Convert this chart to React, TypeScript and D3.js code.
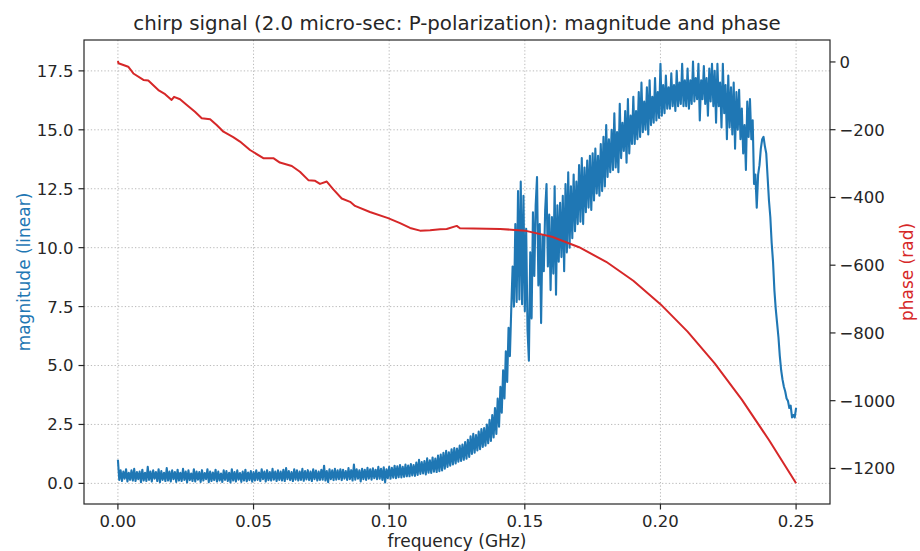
import React from "react";
import * as d3 from "d3";

const W = 920;
const H = 551;
const FRAME = { left: 84, right: 830, top: 40, bottom: 504 };

const TITLE = "chirp signal (2.0 micro-sec: P-polarization): magnitude and phase";
const X_LABEL = "frequency (GHz)";
const Y_LEFT_LABEL = "magnitude (linear)";
const Y_RIGHT_LABEL = "phase (rad)";

const freqTicks = [0, 0.05, 0.1, 0.15, 0.2, 0.25];
const magTicks = [0, 2.5, 5, 7.5, 10, 12.5, 15, 17.5];
const phaseTicks = [0, -200, -400, -600, -800, -1000, -1200];

const freqDomain = [-0.0125, 0.2625];
const magDomain = [-0.875, 18.81];
const phaseDomain = [-1305, 64.8];

// magnitude samples every 0.0005 GHz from 0 to 0.25 GHz
const MAG_STEP = 0.0005;
const magnitude = [
  1.0, 0.15, 0.55, 0.1, 0.5, 0.2, 0.6, 0.08, 0.45, 0.15, 0.55, 0.12, 0.62, 0.1, 0.48, 0.18, 0.5, 0.05, 0.58, 0.12,
  0.45, 0.1, 0.7, 0.15, 0.5, 0.08, 0.55, 0.2, 0.48, 0.1, 0.6, 0.05, 0.52, 0.15, 0.45, 0.1, 0.65, 0.12, 0.5, 0.08,
  0.55, 0.18, 0.48, 0.06, 0.58, 0.12, 0.45, 0.1, 0.62, 0.15, 0.5, 0.04, 0.55, 0.14, 0.42, 0.1, 0.6, 0.08, 0.5, 0.16,
  0.48, 0.06, 0.56, 0.12, 0.44, 0.18, 0.6, 0.05, 0.5, 0.1, 0.46, 0.14, 0.58, 0.08, 0.5, 0.12, 0.42, 0.06, 0.55, 0.15,
  0.52, 0.1, 0.45, 0.04, 0.6, 0.12, 0.48, 0.08, 0.55, 0.16, 0.44, 0.06, 0.5, 0.12, 0.58, 0.09, 0.46, 0.14, 0.52, 0.07,
  0.48, 0.12, 0.55, 0.15, 0.46, 0.1, 0.6, 0.18, 0.5, 0.08, 0.56, 0.14, 0.48, 0.12, 0.62, 0.16, 0.5, 0.1, 0.55, 0.15,
  0.5, 0.12, 0.58, 0.1, 0.65, 0.18, 0.52, 0.14, 0.48, 0.1, 0.6, 0.16, 0.55, 0.12, 0.5, 0.15, 0.62, 0.11, 0.52, 0.17,
  0.56, 0.14, 0.5, 0.1, 0.6, 0.18, 0.54, 0.12, 0.5, 0.15, 0.58, 0.16, 0.75, 0.12, 0.52, 0.05, 0.6, 0.18, 0.55, 0.14,
  0.62, 0.16, 0.55, 0.18, 0.6, 0.14, 0.58, 0.2, 0.52, 0.15, 0.65, 0.18, 0.56, 0.12, 0.8, 0.16, 0.6, 0.2, 0.55, 0.08,
  0.62, 0.18, 0.58, 0.15, 0.66, 0.2, 0.6, 0.16, 0.64, 0.22, 0.58, 0.18, 0.7, 0.2, 0.62, 0.15, 0.68, 0.04, 0.6, 0.22,
  0.7, 0.2, 0.66, 0.24, 0.75, 0.22, 0.72, 0.26, 0.78, 0.25, 0.7, 0.28, 0.8, 0.3, 0.76, 0.3, 0.82, 0.34, 0.78, 0.32,
  0.88, 0.36, 1.0, 0.4, 0.9, 0.42, 0.95, 0.38, 1.06, 0.45, 0.98, 0.44, 1.1, 0.5, 1.05, 0.48, 1.18, 0.52, 1.22, 0.55,
  1.3, 0.62, 1.38, 0.7, 1.32, 0.75, 1.45, 0.8, 1.5, 0.85, 1.48, 0.92, 1.6, 0.95, 1.65, 1.0, 1.75, 1.05, 1.85, 1.12,
  2.0, 1.25, 2.1, 1.3, 2.05, 1.4, 2.2, 1.45, 2.3, 1.55, 2.35, 1.6, 2.5, 1.7, 2.7, 1.8, 2.9, 1.95, 3.2, 2.1,
  3.6, 2.4, 4.1, 3.0, 4.8, 3.6, 5.6, 4.3, 6.6, 5.4, 7.4, 9.2, 7.5, 11.0, 7.7, 12.4, 7.8, 12.8, 7.6, 12.2,
  7.3, 10.8, 6.5, 5.2, 9.8, 7.0, 11.5, 8.8, 11.8, 13.0, 8.4, 11.0, 6.8, 10.5, 9.0, 11.6, 12.7, 9.2, 11.4, 8.2,
  11.3, 8.9, 12.6, 8.0, 11.8, 9.4, 11.9, 9.6, 12.2, 9.0, 12.7, 9.8, 13.2, 10.0, 12.6, 10.4, 13.1, 10.7, 12.8, 11.0,
  13.5, 11.1, 13.8, 11.0, 13.4, 11.5, 13.7, 11.7, 13.9, 11.6, 14.0, 12.0, 14.2, 12.3, 13.9, 12.2, 14.4, 12.4, 14.7, 12.6,
  15.2, 13.0, 14.6, 13.2, 15.0, 13.3, 15.7, 13.4, 14.9, 13.2, 16.1, 13.8, 15.3, 14.1, 15.8, 13.6, 16.3, 14.0, 15.6, 14.4,
  16.4, 14.4, 15.8, 14.6, 16.6, 14.7, 17.0, 14.9, 16.2, 15.0, 16.8, 14.8, 17.1, 15.2, 16.4, 15.3, 17.2, 15.4, 16.6, 15.5,
  17.8, 15.6, 16.9, 15.7, 17.3, 15.9, 16.8, 15.9, 17.4, 16.0, 16.9, 15.8, 17.5, 16.0, 17.0, 16.1, 17.8, 16.0, 17.1, 16.0,
  17.6, 15.9, 17.1, 16.1, 17.9, 16.2, 17.2, 16.3, 17.8, 15.4, 17.1, 16.3, 17.7, 16.1, 17.2, 15.6, 17.6, 16.2, 17.8, 16.0,
  17.5, 15.3, 17.8, 16.0, 17.0, 15.1, 17.8, 15.7, 16.9, 14.6, 17.3, 15.1, 16.8, 14.8, 17.0, 14.2, 16.6, 15.0, 16.7, 14.6,
  15.9, 14.0, 15.2, 13.3, 16.2, 14.7, 16.3, 14.6, 15.4, 12.7, 13.1, 11.7, 13.1, 13.5, 14.2, 14.6, 14.7, 14.3, 14.0, 13.0,
  12.0, 11.3, 10.2, 9.4, 8.2, 7.4, 6.8, 6.2, 5.4, 4.8, 4.4, 4.1, 3.9, 3.6, 3.5, 3.2, 3.3, 2.8, 2.9, 2.8,
  3.2,
];

const phaseFreq = [
  0, 0.0002, 0.0038, 0.0057, 0.0094, 0.0112, 0.0149, 0.0174, 0.0198, 0.0207, 0.0229, 0.0254, 0.0284, 0.0309,
  0.034, 0.0364, 0.0389, 0.0425, 0.045, 0.0487, 0.0536, 0.0573, 0.0597, 0.0641, 0.0671, 0.0702, 0.0727, 0.0745,
  0.077, 0.0794, 0.0825, 0.0856, 0.0874, 0.0929, 0.0996, 0.104, 0.1077, 0.1114, 0.1151, 0.1188, 0.1212, 0.1249,
  0.1261, 0.131, 0.1409, 0.15, 0.16, 0.17, 0.18, 0.19, 0.2, 0.21, 0.22, 0.23, 0.24, 0.25,
];
const phase = [
  3, -4, -14, -34, -53, -55, -83, -95, -112, -103, -110, -127, -147, -166,
  -169, -186, -206, -222, -235, -260, -284, -284, -297, -307, -324, -349, -351, -360,
  -353, -376, -403, -413, -425, -443, -461, -476, -490, -498, -497, -494, -493, -484,
  -491, -492, -493, -498, -516, -547, -590, -646, -715, -796, -890, -997, -1116, -1244,
];

const FONT = "'DejaVu Sans', 'Liberation Sans', sans-serif";
const BLUE = "#1f77b4";
const RED = "#d62728";
const INK = "#262626";

export default function App() {
  const x = d3.scaleLinear().domain(freqDomain).range([FRAME.left, FRAME.right]);
  const yMag = d3.scaleLinear().domain(magDomain).range([FRAME.bottom, FRAME.top]);
  const yPh = d3.scaleLinear().domain(phaseDomain).range([FRAME.bottom, FRAME.top]);

  const magPath = d3
    .line<number>()
    .x((_, i) => x(i * MAG_STEP))
    .y((d) => yMag(d))(magnitude);
  const phPath = d3
    .line<number>()
    .x((_, i) => x(phaseFreq[i]))
    .y((d) => yPh(d))(phase);

  const fmtF = d3.format(".2f");
  const fmtM = d3.format(".1f");
  const fmtP = (v: number) => String(v).replace("-", "\u2212");

  const tickLen = 5.5;
  const fs = 16.5;
  const lfs = 17;

  return (
    <div style={{ position: "absolute", left: 0, top: 0, width: W, height: H, background: "#fff" }}>
      <svg width={W} height={H} style={{ display: "block", fontFamily: FONT }}>
        <rect x={0} y={0} width={W} height={H} fill="#fff" />
        {/* grid */}
        <g stroke="#b0b0b0" strokeWidth={1} strokeDasharray="1.3,2.1" opacity={0.85}>
          {freqTicks.map((t) => (
            <line key={"gx" + t} x1={x(t)} x2={x(t)} y1={FRAME.top} y2={FRAME.bottom} />
          ))}
          {magTicks.map((t) => (
            <line key={"gy" + t} x1={FRAME.left} x2={FRAME.right} y1={yMag(t)} y2={yMag(t)} />
          ))}
        </g>
        {/* data */}
        <path d={magPath || ""} fill="none" stroke={BLUE} strokeWidth={2.1} strokeLinejoin="round" />
        <path d={phPath || ""} fill="none" stroke={RED} strokeWidth={2} strokeLinejoin="round" />
        {/* frame */}
        <rect
          x={FRAME.left}
          y={FRAME.top}
          width={FRAME.right - FRAME.left}
          height={FRAME.bottom - FRAME.top}
          fill="none"
          stroke={INK}
          strokeWidth={1.2}
        />
        {/* bottom ticks */}
        {freqTicks.map((t) => (
          <g key={"bx" + t}>
            <line x1={x(t)} x2={x(t)} y1={FRAME.bottom} y2={FRAME.bottom + tickLen} stroke={INK} strokeWidth={1.2} />
            <text x={x(t)} y={527} textAnchor="middle" fontSize={fs} fill={INK}>
              {fmtF(t)}
            </text>
          </g>
        ))}
        {/* left ticks */}
        {magTicks.map((t) => (
          <g key={"ly" + t}>
            <line x1={FRAME.left - tickLen} x2={FRAME.left} y1={yMag(t)} y2={yMag(t)} stroke={INK} strokeWidth={1.2} />
            <text x={FRAME.left - tickLen - 5} y={yMag(t)} dy="0.36em" textAnchor="end" fontSize={fs} fill={INK}>
              {fmtM(t)}
            </text>
          </g>
        ))}
        {/* right ticks */}
        {phaseTicks.map((t) => (
          <g key={"ry" + t}>
            <line x1={FRAME.right} x2={FRAME.right + tickLen} y1={yPh(t)} y2={yPh(t)} stroke={INK} strokeWidth={1.2} />
            <text x={FRAME.right + tickLen + 4} y={yPh(t)} dy="0.36em" textAnchor="start" fontSize={fs} fill={INK}>
              {fmtP(t)}
            </text>
          </g>
        ))}
        {/* labels */}
        <text x={(FRAME.left + FRAME.right) / 2} y={30} textAnchor="middle" fontSize={19.8} fill={INK}>
          {TITLE}
        </text>
        <text x={(FRAME.left + FRAME.right) / 2} y={547} textAnchor="middle" fontSize={lfs} fill={INK}>
          {X_LABEL}
        </text>
        <text
          transform={`translate(30,${(FRAME.top + FRAME.bottom) / 2}) rotate(-90)`}
          textAnchor="middle"
          fontSize={lfs}
          fill={BLUE}
        >
          {Y_LEFT_LABEL}
        </text>
        <text
          transform={`translate(913,${(FRAME.top + FRAME.bottom) / 2}) rotate(-90)`}
          textAnchor="middle"
          fontSize={lfs}
          fill={RED}
        >
          {Y_RIGHT_LABEL}
        </text>
      </svg>
    </div>
  );
}
